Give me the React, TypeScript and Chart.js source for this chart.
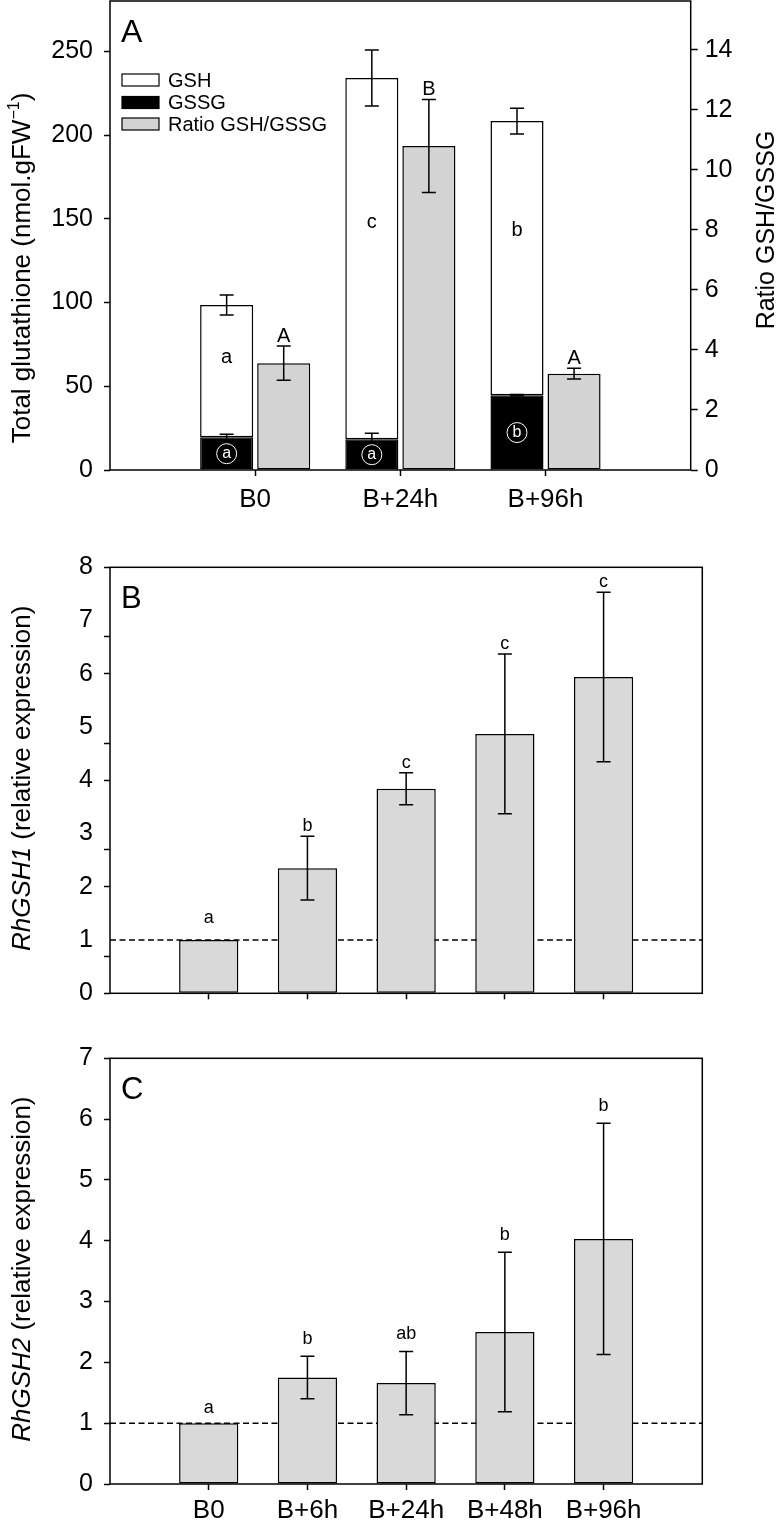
import React, { useEffect, useRef } from 'react';
import { Chart, registerables } from 'chart.js';

Chart.register(...registerables);

const FONT = '"Liberation Sans", Arial, Helvetica, sans-serif';
Chart.defaults.font.family = FONT;
Chart.defaults.color = '#000';

// ---------- Panel A data ----------
const A_CATEGORIES = ['B0', 'B+24h', 'B+96h'];
const A_TOTAL = [98.5, 234, 208.3];
const A_TOTAL_ERR = [6, 16.7, 7.7];
const A_GSSG = [19.5, 18.3, 44.7];
const A_GSSG_ERR = [1.8, 3.7, 0.4];
const A_RATIO = [3.56, 10.8, 3.21];
const A_RATIO_ERR = [0.57, 1.55, 0.18];
const A_TOTAL_LETTERS = ['a', 'c', 'b'];
const A_GSSG_LETTERS = ['a', 'a', 'b'];
const A_RATIO_LETTERS = ['A', 'B', 'A'];
const A_LEFT_TICKS = [0, 50, 100, 150, 200, 250];
const A_RIGHT_TICKS = [0, 2, 4, 6, 8, 10, 12, 14];
const A_LEGEND = ['GSH', 'GSSG', 'Ratio GSH/GSSG'];

// ---------- Panels B and C data ----------
const BC_CATEGORIES = ['B0', 'B+6h', 'B+24h', 'B+48h', 'B+96h'];
const B_VALUES = [1.0, 2.35, 3.84, 4.87, 5.94];
const B_ERR = [0, 0.6, 0.3, 1.5, 1.59];
const B_LETTERS = ['a', 'b', 'c', 'c', 'c'];
const B_TICK_LABELS = [0, 1, 2, 3, 4, 5, 6, 7, 8];
const B_TICK_MARKS = [0, 0.7, 2, 2.7, 4, 4.7, 6, 6.7, 8];

const C_VALUES = [1.0, 1.75, 1.66, 2.5, 4.03];
const C_ERR = [0, 0.35, 0.52, 1.31, 1.9];
const C_LETTERS = ['a', 'b', 'ab', 'b', 'b'];
const C_TICK_LABELS = [0, 1, 2, 3, 4, 5, 6, 7];

const REFERENCE_LEVEL = 1;

const padded = (arr: any[]) => [null, ...arr, null];

function errBar(ctx: any, x: number, yTop: number, yBot: number, half: number) {
  ctx.beginPath();
  ctx.moveTo(x, yTop);
  ctx.lineTo(x, yBot);
  ctx.moveTo(x - half, yTop);
  ctx.lineTo(x + half, yTop);
  ctx.moveTo(x - half, yBot);
  ctx.lineTo(x + half, yBot);
  ctx.stroke();
}

type Seg = { text: string; italic?: boolean; sup?: boolean };
function drawRotated(ctx: any, x: number, y: number, segs: Seg[], size: number) {
  ctx.save();
  ctx.translate(x, y);
  ctx.rotate(-Math.PI / 2);
  ctx.textBaseline = 'middle';
  ctx.textAlign = 'left';
  ctx.fillStyle = '#000';
  const fontFor = (s: Seg) => `${s.italic ? 'italic ' : ''}${s.sup ? Math.round(size * 0.62) : size}px ${FONT}`;
  let total = 0;
  for (const s of segs) {
    ctx.font = fontFor(s);
    total += ctx.measureText(s.text).width;
  }
  let cx = -total / 2;
  for (const s of segs) {
    ctx.font = fontFor(s);
    ctx.fillText(s.text, cx, s.sup ? -size * 0.33 : 0);
    cx += ctx.measureText(s.text).width;
  }
  ctx.restore();
}

function drawFrame(ctx: any, ca: any) {
  ctx.save();
  ctx.strokeStyle = '#000';
  ctx.lineWidth = 1.5;
  ctx.strokeRect(ca.left, ca.top, ca.right - ca.left, ca.bottom - ca.top);
  ctx.restore();
}

function panelLetter(ctx: any, ca: any, letter: string, size: number) {
  ctx.save();
  ctx.fillStyle = '#000';
  ctx.font = `${size}px ${FONT}`;
  ctx.textAlign = 'left';
  ctx.textBaseline = 'alphabetic';
  ctx.fillText(letter, ca.left + 11, ca.top + 41);
  ctx.restore();
}

const tickGrid = (len: number, colorFn?: any) => ({
  display: true,
  offset: false,
  drawOnChartArea: false,
  drawTicks: true,
  tickLength: len,
  tickWidth: 1.5,
  tickColor: colorFn || '#000',
});

// ---------- Panel A ----------
function buildA(): any {
  const labels = ['', ...A_CATEGORIES, ''];
  const gshSegment = A_TOTAL.map((t, i) => t - A_GSSG[i]);
  const common = { borderColor: '#000', borderWidth: 1.5, borderSkipped: false, categoryPercentage: 0.786, barPercentage: 0.93 };
  const plugin = {
    id: 'panelA',
    afterDraw(chart: any) {
      const { ctx, chartArea: ca, scales } = chart;
      const y = scales.y;
      const y1 = scales.y1;
      const mG = chart.getDatasetMeta(0);
      const mR = chart.getDatasetMeta(2);
      ctx.save();
      ctx.strokeStyle = '#000';
      ctx.lineWidth = 1.5;
      A_CATEGORIES.forEach((_, i) => {
        const bx = mG.data[i + 1].x;
        const rx = mR.data[i + 1].x;
        errBar(ctx, bx, y.getPixelForValue(A_TOTAL[i] + A_TOTAL_ERR[i]), y.getPixelForValue(A_TOTAL[i] - A_TOTAL_ERR[i]), 7);
        errBar(ctx, bx, y.getPixelForValue(A_GSSG[i] + A_GSSG_ERR[i]), y.getPixelForValue(A_GSSG[i] - A_GSSG_ERR[i]), 7);
        const capR = y1.getPixelForValue(A_RATIO[i] + A_RATIO_ERR[i]);
        errBar(ctx, rx, capR, y1.getPixelForValue(A_RATIO[i] - A_RATIO_ERR[i]), 7);

        ctx.fillStyle = '#000';
        ctx.font = `20px ${FONT}`;
        ctx.textAlign = 'center';
        ctx.textBaseline = 'middle';
        const midWhite = A_GSSG[i] + 0.6 * (A_TOTAL[i] - A_GSSG[i]);
        ctx.fillText(A_TOTAL_LETTERS[i], bx, y.getPixelForValue(midWhite));
        ctx.textBaseline = 'alphabetic';
        ctx.fillText(A_RATIO_LETTERS[i], rx, capR - 4);

        // circled letter inside black bar
        const cy = y.getPixelForValue(A_GSSG[i] / 2);
        ctx.save();
        ctx.strokeStyle = '#fff';
        ctx.lineWidth = 1;
        ctx.beginPath();
        ctx.arc(bx, cy, 10, 0, Math.PI * 2);
        ctx.stroke();
        ctx.fillStyle = '#fff';
        ctx.font = `16px ${FONT}`;
        ctx.textBaseline = 'middle';
        ctx.fillText(A_GSSG_LETTERS[i], bx, cy);
        ctx.restore();
      });

      // legend
      const fills = ['#fff', '#000', '#d3d3d3'];
      const centers = [80, 102.5, 124];
      A_LEGEND.forEach((t, k) => {
        ctx.fillStyle = fills[k];
        ctx.fillRect(122, centers[k] - 6, 37, 12);
        ctx.strokeStyle = '#000';
        ctx.lineWidth = 1.2;
        ctx.strokeRect(122, centers[k] - 6, 37, 12);
        ctx.fillStyle = '#000';
        ctx.font = `20px ${FONT}`;
        ctx.textAlign = 'left';
        ctx.textBaseline = 'middle';
        ctx.fillText(t, 168, centers[k] + 1);
      });
      ctx.restore();

      drawFrame(ctx, ca);
      panelLetter(ctx, ca, 'A', 32);
      drawRotated(ctx, 23, 268, [
        { text: 'Total glutathione (nmol.gFW' },
        { text: '\u22121', sup: true },
        { text: ')' },
      ], 26);
      drawRotated(ctx, 767, 230, [{ text: 'Ratio GSH/GSSG' }], 25);
    },
  };

  return {
    type: 'bar',
    data: {
      labels,
      datasets: [
        { label: 'GSSG', data: padded(A_GSSG), backgroundColor: '#000', stack: 'g', yAxisID: 'y', ...common },
        { label: 'GSH', data: padded(gshSegment), backgroundColor: '#fff', stack: 'g', yAxisID: 'y', ...common },
        { label: 'Ratio GSH/GSSG', data: padded(A_RATIO), backgroundColor: '#d3d3d3', stack: 'r', yAxisID: 'y1', ...common },
      ],
    },
    options: {
      responsive: false,
      animation: false,
      layout: { padding: { top: 1, left: 0, right: 0, bottom: 0 } },
      plugins: { legend: { display: false }, tooltip: { enabled: false } },
      scales: {
        x: {
          type: 'category',
          stacked: true,
          offset: false,
          grid: tickGrid(6, (c: any) => (c.index === 0 || c.index === labels.length - 1 ? 'rgba(0,0,0,0)' : '#000')),
          border: { display: false },
          ticks: { font: { size: 26 }, color: '#000', padding: 8, maxRotation: 0, autoSkip: false },
          afterFit: (s: any) => { s.height = 60; s.paddingLeft = 0; s.paddingRight = 0; },
        },
        y: {
          type: 'linear',
          position: 'left',
          stacked: true,
          min: 0,
          max: 280,
          grid: tickGrid(6),
          border: { display: false },
          ticks: { font: { size: 25 }, color: '#000', padding: 11, autoSkip: false },
          afterBuildTicks: (s: any) => { s.ticks = A_LEFT_TICKS.map((v) => ({ value: v })); },
          afterFit: (s: any) => { s.width = 110; s.paddingTop = 0; s.paddingBottom = 0; },
        },
        y1: {
          type: 'linear',
          position: 'right',
          stacked: true,
          min: 0,
          max: 15.63,
          grid: tickGrid(7),
          border: { display: false },
          ticks: { font: { size: 25 }, color: '#000', padding: 7, autoSkip: false },
          afterBuildTicks: (s: any) => { s.ticks = A_RIGHT_TICKS.map((v) => ({ value: v })); },
          afterFit: (s: any) => { s.width = 93.3; s.paddingTop = 0; s.paddingBottom = 0; },
        },
      },
    },
    plugins: [plugin],
  };
}

// ---------- Panels B / C ----------
function buildExpr(opts: {
  values: number[]; errs: number[]; letters: string[]; tickLabels: number[]; tickMarks: number[];
  max: number; showX: boolean; padTop: number; xHeight: number; xPad: number;
  gap: number; zeroGap: number; panel: string; gene: string;
}): any {
  const labels = ['', ...BC_CATEGORIES, ''];
  const allTicks = Array.from(new Set([...opts.tickLabels, ...opts.tickMarks])).sort((a, b) => a - b);
  const plugin = {
    id: 'panel' + opts.panel,
    beforeDatasetsDraw(chart: any) {
      const { ctx, chartArea: ca, scales } = chart;
      const yy = scales.y.getPixelForValue(REFERENCE_LEVEL);
      ctx.save();
      ctx.strokeStyle = '#000';
      ctx.lineWidth = 1.4;
      ctx.setLineDash([6, 3.5]);
      ctx.beginPath();
      ctx.moveTo(ca.left, yy);
      ctx.lineTo(ca.right, yy);
      ctx.stroke();
      ctx.restore();
    },
    afterDraw(chart: any) {
      const { ctx, chartArea: ca, scales } = chart;
      const y = scales.y;
      const meta = chart.getDatasetMeta(0);
      ctx.save();
      ctx.strokeStyle = '#000';
      ctx.lineWidth = 1.5;
      opts.values.forEach((v, i) => {
        const bx = meta.data[i + 1].x;
        const e = opts.errs[i];
        let base;
        if (e > 0) {
          const cap = y.getPixelForValue(v + e);
          errBar(ctx, bx, cap, y.getPixelForValue(v - e), 7);
          base = cap - opts.gap;
        } else {
          base = y.getPixelForValue(v) - opts.zeroGap;
        }
        ctx.fillStyle = '#000';
        ctx.font = `18px ${FONT}`;
        ctx.textAlign = 'center';
        ctx.textBaseline = 'alphabetic';
        ctx.fillText(opts.letters[i], bx, base);
      });
      ctx.restore();
      drawFrame(ctx, ca);
      panelLetter(ctx, ca, opts.panel, 31);
      drawRotated(ctx, 23, (ca.top + ca.bottom) / 2 - 2, [
        { text: opts.gene, italic: true },
        { text: ' (relative expression)' },
      ], 26);
    },
  };
  return {
    type: 'bar',
    data: {
      labels,
      datasets: [
        {
          label: opts.gene,
          data: padded(opts.values),
          backgroundColor: '#d9d9d9',
          borderColor: '#000',
          borderWidth: 1.5,
          borderSkipped: false,
          categoryPercentage: 1,
          barPercentage: 0.6,
        },
      ],
    },
    options: {
      responsive: false,
      animation: false,
      layout: { padding: { top: opts.padTop, left: 0, right: 81.7, bottom: 0 } },
      plugins: { legend: { display: false }, tooltip: { enabled: false } },
      scales: {
        x: {
          type: 'category',
          offset: false,
          grid: tickGrid(6, (c: any) => (c.index === 0 || c.index === labels.length - 1 ? 'rgba(0,0,0,0)' : '#000')),
          border: { display: false },
          ticks: {
            font: { size: 26 }, color: '#000', padding: opts.xPad, maxRotation: 0, autoSkip: false,
            callback: (_v: any, i: number) => (opts.showX ? labels[i] : ''),
          },
          afterFit: (s: any) => { s.height = opts.xHeight; s.paddingLeft = 0; s.paddingRight = 0; },
        },
        y: {
          type: 'linear',
          position: 'left',
          min: 0,
          max: opts.max,
          grid: tickGrid(6, (c: any) => (c.tick && opts.tickMarks.includes(c.tick.value) ? '#000' : 'rgba(0,0,0,0)')),
          border: { display: false },
          ticks: {
            font: { size: 25 }, color: '#000', padding: 11, autoSkip: false,
            callback: (v: any) => (opts.tickLabels.includes(v) ? String(v) : ''),
          },
          afterBuildTicks: (s: any) => { s.ticks = allTicks.map((v) => ({ value: v })); },
          afterFit: (s: any) => { s.width = 110; s.paddingTop = 0; s.paddingBottom = 0; },
        },
      },
    },
    plugins: [plugin],
  };
}

function ChartCanvas({ top, height, build }: { top: number; height: number; build: () => any }) {
  const ref = useRef<HTMLCanvasElement | null>(null);
  useEffect(() => {
    if (!ref.current) return;
    const chart = new Chart(ref.current, build());
    return () => chart.destroy();
  }, []);
  return (
    <canvas
      ref={ref}
      width={784}
      height={height}
      style={{ position: 'absolute', left: 0, top, width: 784, height, display: 'block' }}
    />
  );
}

export default function App() {
  return (
    <div style={{ position: 'absolute', left: 0, top: 0, width: 784, height: 1526, background: '#fff' }}>
      <ChartCanvas top={0} height={530} build={buildA} />
      <ChartCanvas
        top={530}
        height={490}
        build={() =>
          buildExpr({
            values: B_VALUES, errs: B_ERR, letters: B_LETTERS, tickLabels: B_TICK_LABELS, tickMarks: B_TICK_MARKS,
            max: 8, showX: false, padTop: 37.3, xHeight: 26.7, xPad: 5, gap: 5, zeroGap: 16.6, panel: 'B', gene: 'RhGSH1',
          })
        }
      />
      <ChartCanvas
        top={1020}
        height={506}
        build={() =>
          buildExpr({
            values: C_VALUES, errs: C_ERR, letters: C_LETTERS, tickLabels: C_TICK_LABELS, tickMarks: C_TICK_LABELS,
            max: 7, showX: true, padTop: 38.3, xHeight: 42, xPad: 5, gap: 12.5, zeroGap: 10.6, panel: 'C', gene: 'RhGSH2',
          })
        }
      />
    </div>
  );
}
